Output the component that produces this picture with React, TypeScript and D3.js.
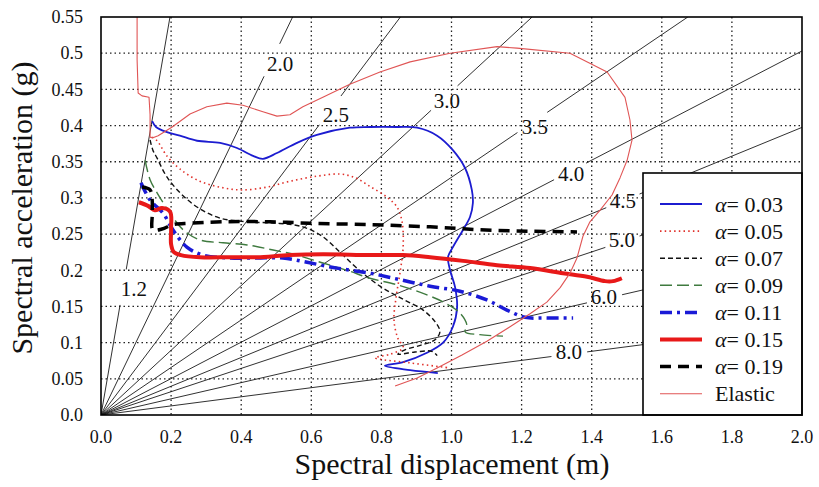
import React, { useEffect } from "react";
import * as d3 from "d3";

// constant-period lines (s) and where their labels sit [Sd, Sa]
const periods = [1.2, 2.0, 2.5, 3.0, 3.5, 4.0, 4.5, 5.0, 6.0, 8.0];
const periodLabels = ["1.2", "2.0", "2.5", "3.0", "3.5", "4.0", "4.5", "5.0", "6.0", "8.0"];
const periodLabelAt: [number, number][] = [
  [0.094, 0.174], [0.511, 0.485], [0.67, 0.415], [0.987, 0.434], [1.238, 0.399],
  [1.341, 0.334], [1.489, 0.296], [1.486, 0.242], [1.435, 0.164], [1.335, 0.088],
];

const xTicks = [0, 0.2, 0.4, 0.6, 0.8, 1.0, 1.2, 1.4, 1.6, 1.8, 2.0];
const xTickLabels = ["0.0", "0.2", "0.4", "0.6", "0.8", "1.0", "1.2", "1.4", "1.6", "1.8", "2.0"];
const yTicks = [0, 0.05, 0.1, 0.15, 0.2, 0.25, 0.3, 0.35, 0.4, 0.45, 0.5, 0.55];
const yTickLabels = ["0.0", "0.05", "0.1", "0.15", "0.2", "0.25", "0.3", "0.35", "0.4", "0.45", "0.5", "0.55"];

// curves as [Sd (m), Sa (g)]
const alpha003: [number, number][] = [
  [0.146, 0.406], [0.157, 0.398], [0.188, 0.391], [0.225, 0.386], [0.274, 0.379], [0.34, 0.376],
  [0.388, 0.369], [0.434, 0.358], [0.462, 0.354], [0.502, 0.362], [0.559, 0.376], [0.616, 0.387],
  [0.71, 0.397], [0.767, 0.398], [0.845, 0.398], [0.902, 0.397], [0.959, 0.386], [1.004, 0.366],
  [1.039, 0.341], [1.058, 0.311], [1.061, 0.293], [1.053, 0.274], [1.033, 0.256], [1.004, 0.232],
  [0.99, 0.218], [0.996, 0.2], [1.01, 0.177], [1.016, 0.149], [1.004, 0.122], [0.976, 0.1],
  [0.93, 0.086], [0.862, 0.073], [0.81, 0.068], [0.882, 0.062], [0.961, 0.058],
];
const alpha005: [number, number][] = [
  [0.146, 0.384], [0.16, 0.379], [0.188, 0.358], [0.225, 0.34], [0.282, 0.323], [0.348, 0.314],
  [0.405, 0.311], [0.474, 0.315], [0.539, 0.323], [0.616, 0.33], [0.682, 0.333], [0.725, 0.328],
  [0.767, 0.316], [0.816, 0.301], [0.845, 0.287], [0.859, 0.267], [0.862, 0.232], [0.853, 0.196],
  [0.842, 0.163], [0.836, 0.131], [0.847, 0.106], [0.862, 0.093], [0.825, 0.084], [0.782, 0.079],
  [0.882, 0.072], [0.996, 0.065],
];
const alpha007: [number, number][] = [
  [0.14, 0.38], [0.148, 0.366], [0.16, 0.355], [0.188, 0.329], [0.234, 0.303], [0.282, 0.285],
  [0.34, 0.272], [0.417, 0.267], [0.502, 0.265], [0.576, 0.26], [0.631, 0.247], [0.682, 0.225],
  [0.73, 0.203], [0.796, 0.178], [0.862, 0.16], [0.919, 0.145], [0.953, 0.129], [0.967, 0.115],
  [0.953, 0.104], [0.916, 0.097], [0.867, 0.09], [0.847, 0.084], [0.896, 0.087], [0.944, 0.088],
  [0.959, 0.082],
];
const alpha009: [number, number][] = [
  [0.126, 0.352], [0.14, 0.325], [0.16, 0.307], [0.197, 0.279], [0.234, 0.256], [0.282, 0.242],
  [0.348, 0.238], [0.417, 0.235], [0.491, 0.228], [0.559, 0.221], [0.633, 0.21], [0.702, 0.2],
  [0.767, 0.189], [0.845, 0.18], [0.93, 0.166], [0.981, 0.155], [1.024, 0.141], [1.044, 0.124],
  [1.039, 0.115], [1.081, 0.111], [1.147, 0.109],
];
const alpha011: [number, number][] = [
  [0.114, 0.321], [0.14, 0.297], [0.177, 0.279], [0.205, 0.256], [0.245, 0.232], [0.291, 0.221],
  [0.368, 0.217], [0.445, 0.217], [0.519, 0.217], [0.588, 0.211], [0.673, 0.203], [0.767, 0.196],
  [0.853, 0.187], [0.939, 0.178], [1.024, 0.171], [1.101, 0.159], [1.158, 0.145], [1.21, 0.135],
  [1.272, 0.134], [1.347, 0.134],
];
const alpha015: [number, number][] = [
  [0.108, 0.294], [0.134, 0.289], [0.154, 0.283], [0.174, 0.286], [0.197, 0.281], [0.2, 0.258],
  [0.2, 0.236], [0.208, 0.225], [0.228, 0.221], [0.282, 0.218], [0.368, 0.218], [0.445, 0.218],
  [0.539, 0.221], [0.633, 0.222], [0.767, 0.221], [0.862, 0.221], [0.939, 0.218], [1.033, 0.213],
  [1.13, 0.207], [1.224, 0.203], [1.318, 0.196], [1.387, 0.191], [1.438, 0.185], [1.461, 0.185],
  [1.486, 0.189],
];
const alpha019: [number, number][] = [
  [0.117, 0.315], [0.14, 0.311], [0.146, 0.297], [0.146, 0.276], [0.148, 0.256], [0.174, 0.257],
  [0.205, 0.263], [0.254, 0.265], [0.348, 0.267], [0.482, 0.267], [0.596, 0.265], [0.767, 0.263],
  [0.939, 0.26], [1.081, 0.256], [1.224, 0.254], [1.358, 0.253],
];
const elastic: [number, number][] = [
  [0.103, 0.55], [0.103, 0.491], [0.106, 0.445], [0.117, 0.441], [0.137, 0.439], [0.14, 0.415],
  [0.14, 0.384], [0.148, 0.383], [0.163, 0.386], [0.203, 0.398], [0.254, 0.416], [0.302, 0.426],
  [0.359, 0.431], [0.405, 0.428], [0.462, 0.419], [0.502, 0.413], [0.539, 0.415], [0.576, 0.426],
  [0.633, 0.439], [0.71, 0.457], [0.796, 0.474], [0.882, 0.488], [0.996, 0.5], [1.13, 0.509],
  [1.187, 0.507], [1.338, 0.5], [1.444, 0.474], [1.495, 0.439], [1.509, 0.408], [1.515, 0.38],
  [1.501, 0.352], [1.481, 0.328], [1.458, 0.304], [1.424, 0.283], [1.395, 0.267], [1.375, 0.247],
  [1.358, 0.217], [1.338, 0.196], [1.31, 0.176], [1.272, 0.156], [1.224, 0.14], [1.167, 0.122],
  [1.101, 0.102], [1.03, 0.083], [0.959, 0.065], [0.902, 0.051], [0.839, 0.04],
];

const legendNames = ["0.03", "0.05", "0.07", "0.09", "0.11", "0.15", "0.19"];

const series = [
  { name: "0.03", data: alpha003, color: "#1c1cd0", width: 1.8, dash: "none" },
  { name: "0.05", data: alpha005, color: "#e0302a", width: 1.6, dash: "1.5 3.2" },
  { name: "0.07", data: alpha007, color: "#111", width: 1.4, dash: "5 3" },
  { name: "0.09", data: alpha009, color: "#3f7a3f", width: 1.4, dash: "12 5" },
  { name: "0.11", data: alpha011, color: "#1a1ad6", width: 3.5, dash: "12 5 3 5" },
  { name: "0.15", data: alpha015, color: "#e81919", width: 4, dash: "none" },
  { name: "0.19", data: alpha019, color: "#000", width: 3.5, dash: "11 7" },
  { name: "Elastic", data: elastic, color: "#e05555", width: 1.1, dash: "none" },
];

const serif = "'Liberation Serif', 'Times New Roman', serif";

const App = () => {
  useEffect(() => {
    document.body.style.margin = "0";
  }, []);

  const W = 819, H = 487;
  const left = 101, right = 802, top = 17, bottom = 415;
  const x = d3.scaleLinear().domain([0, 2]).range([left, right]);
  const y = d3.scaleLinear().domain([0, 0.55]).range([bottom, top]);

  const lineGen = d3.line<[number, number]>()
    .x((d) => x(d[0]))
    .y((d) => y(d[1]))
    .curve(d3.curveCatmullRom.alpha(0.5));
  const lineLin = d3.line<[number, number]>()
    .x((d) => x(d[0]))
    .y((d) => y(d[1]));

  // constant period lines with a gap around each label
  const gap = 18;
  const fan = periods.map((T, i) => {
    const k = (4 * Math.PI * Math.PI) / (T * T * 9.81);
    const sdEnd = Math.min(2, 0.55 / k);
    const x0 = x(0), y0 = y(0);
    const x1 = x(sdEnd), y1 = y(k * sdEnd);
    const len = Math.hypot(x1 - x0, y1 - y0);
    const ux = (x1 - x0) / len, uy = (y1 - y0) / len;
    const lx = x(periodLabelAt[i][0]), ly = y(periodLabelAt[i][1]);
    const t = (lx - x0) * ux + (ly - y0) * uy;
    const segs = [
      [0, t - gap],
      [t + gap, len],
    ];
    return { segs, x0, y0, ux, uy, lx, ly, label: periodLabels[i] };
  });

  const legX = 643, legY = 173;
  const rowY = (i: number) => 204 + i * 27.1;

  return (
    <svg width={W} height={H} style={{ display: "block" }} fontFamily={serif}>
      <rect x={0} y={0} width={W} height={H} fill="#fff" />
      <defs>
        <clipPath id="plotClip">
          <rect x={left} y={top} width={right - left} height={bottom - top} />
        </clipPath>
      </defs>

      {/* dotted grid */}
      <g stroke="#222" strokeWidth={1.3} strokeDasharray="1.5 3">
        {xTicks.slice(1, -1).map((v) => (
          <line key={"gx" + v} x1={x(v)} x2={x(v)} y1={top} y2={bottom} />
        ))}
        {yTicks.slice(1, -1).map((v) => (
          <line key={"gy" + v} x1={left} x2={right} y1={y(v)} y2={y(v)} />
        ))}
      </g>

      {/* period lines */}
      <g clipPath="url(#plotClip)" stroke="#1a1a1a" strokeWidth={0.9}>
        {fan.map((f, i) =>
          f.segs.map((s, j) => (
            <line
              key={i + "-" + j}
              x1={f.x0 + f.ux * s[0]}
              y1={f.y0 + f.uy * s[0]}
              x2={f.x0 + f.ux * s[1]}
              y2={f.y0 + f.uy * s[1]}
            />
          ))
        )}
      </g>
      {fan.map((f) => (
        <text key={"pl" + f.label} x={f.lx} y={f.ly} dy="0.35em" textAnchor="middle" fontSize={21} fill="#111">
          {f.label}
        </text>
      ))}

      {/* curves */}
      <g clipPath="url(#plotClip)" fill="none" strokeLinejoin="round">
        {series.map((s) => (
          <path
            key={s.name}
            d={(s.name === "Elastic" ? lineLin : lineGen)(s.data) || ""}
            stroke={s.color}
            strokeWidth={s.width}
            strokeDasharray={s.dash}
          />
        ))}
      </g>

      {/* legend */}
      <rect x={legX} y={legY} width={right - legX} height={bottom - legY} fill="#fff" stroke="#000" strokeWidth={1.6} />
      {series.map((s, i) => (
        <g key={"lg" + s.name}>
          <line x1={660} x2={702} y1={rowY(i)} y2={rowY(i)} stroke={s.color} strokeWidth={s.width} strokeDasharray={s.dash} />
          <text x={715} y={rowY(i)} dy="0.35em" fontSize={22} fill="#111">
            {i < legendNames.length ? (
              <>
                <tspan fontStyle="italic">α</tspan>
                <tspan>{"= " + legendNames[i]}</tspan>
              </>
            ) : (
              s.name
            )}
          </text>
        </g>
      ))}

      {/* frame */}
      <rect x={left} y={top} width={right - left} height={bottom - top} fill="none" stroke="#000" strokeWidth={1.6} />

      {/* tick labels */}
      {xTicks.map((v, i) => (
        <text key={"xt" + v} x={x(v)} y={443} textAnchor="middle" fontSize={18} fill="#111">
          {xTickLabels[i]}
        </text>
      ))}
      {yTicks.map((v, i) => (
        <text key={"yt" + v} x={83} y={y(v)} dy="0.35em" textAnchor="end" fontSize={18} fill="#111">
          {yTickLabels[i]}
        </text>
      ))}

      {/* axis titles */}
      <text x={452} y={474} textAnchor="middle" fontSize={30} fill="#111">
        Spectral displacement (m)
      </text>
      <text transform={`translate(32,208) rotate(-90)`} textAnchor="middle" fontSize={30} fill="#111">
        Spectral acceleration (g)
      </text>
    </svg>
  );
};

export default App;
